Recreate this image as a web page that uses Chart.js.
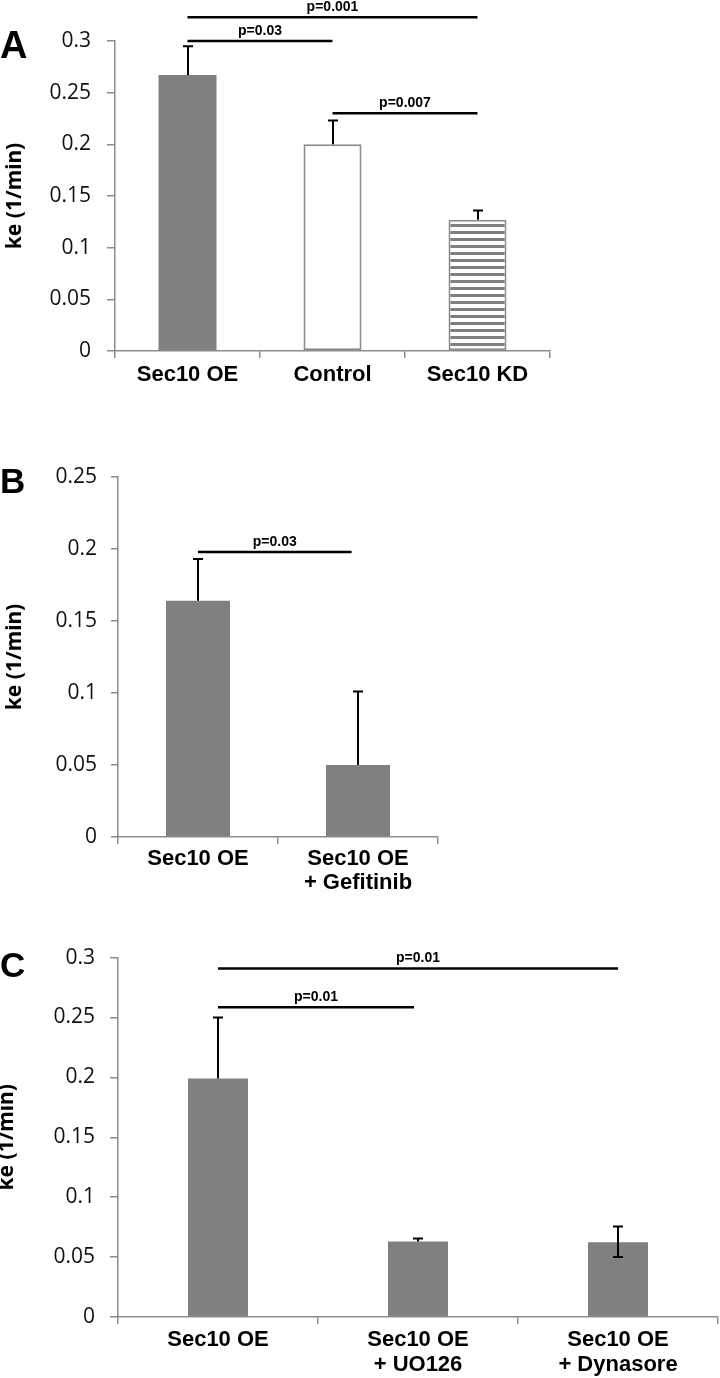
<!DOCTYPE html>
<html lang="en">
<head>
<meta charset="UTF-8" />
<title>ke panels</title>
<script src="https://cdn.jsdelivr.net/npm/chart.js"></script>
<style>
  html, body { margin: 0; padding: 0; background: #fff; }
  body { width: 720px; height: 1378px; position: relative; overflow: hidden; }
  .panel { position: absolute; left: 0; width: 720px; }
  .panel canvas { position: absolute; left: 0; top: 0; }
  .letter {
    position: absolute; left: 0; line-height: 1; color: #000;
    font-family: "Liberation Sans", Arial, sans-serif; font-weight: bold;
  }
</style>
</head>
<body>
  <div class="panel" style="top:0;height:400px">
    <canvas id="chartA" width="720" height="400"></canvas>
    <div class="letter" style="top:26px;font-size:38px">A</div>
  </div>
  <div class="panel" style="top:430px;height:470px">
    <canvas id="chartB" width="720" height="470"></canvas>
    <div class="letter" style="top:33px;font-size:35px">B</div>
  </div>
  <div class="panel" style="top:930px;height:448px">
    <canvas id="chartC" width="720" height="448"></canvas>
    <div class="letter" style="top:17px;font-size:35px">C</div>
  </div>

<script>
// ---- data ----
const catsA = ["Sec10 OE", "Control", "Sec10 KD"];
const valsA = [0.267, 0.200, 0.127];
const errUpA = [0.028, 0.023, 0.009];
const ticksA = [0, 0.05, 0.1, 0.15, 0.2, 0.25, 0.3];
const sigA = [
  { from: 0, to: 2, y: 0.323, text: "p=0.001" },
  { from: 0, to: 1, y: 0.300, text: "p=0.03" },
  { from: 1, to: 2, y: 0.230, text: "p=0.007" }
];

const catsB = ["Sec10 OE", ["Sec10 OE", "+ Gefitinib"]];
const valsB = [0.164, 0.050];
const errUpB = [0.029, 0.051];
const ticksB = [0, 0.05, 0.1, 0.15, 0.2, 0.25];
const sigB = [{ from: 0, to: 0.96, y: 0.198, text: "p=0.03" }];

const catsC = ["Sec10 OE", ["Sec10 OE", "+ UO126"], ["Sec10 OE", "+ Dynasore"]];
const valsC = [0.199, 0.063, 0.0625];
const errUpC = [0.051, 0.0025, 0.013];
const errDownC = [0, 0, 0.0125];
const ticksC = [0, 0.05, 0.1, 0.15, 0.2, 0.25, 0.3];
const sigC = [
  { from: 0, to: 2, y: 0.291, text: "p=0.01" },
  { from: 0, to: 0.98, y: 0.2585, text: "p=0.01" }
];

const AXIS = "#8c8c8c";
const BAR = "#808080";
const REG = "'Liberation Sans', Arial, sans-serif";
const NUM = "'Open Sans', sans-serif";
const TITLE = "'Noto Sans', sans-serif";

function stripes() {
  const c = document.createElement("canvas");
  c.width = 8; c.height = 7;
  const g = c.getContext("2d");
  g.fillStyle = "#fff"; g.fillRect(0, 0, 8, 7);
  g.fillStyle = "#7f7f7f"; g.fillRect(0, 0, 8, 3);
  return g.createPattern(c, "repeat");
}

// error bars and significance brackets
function extras(o) {
  return {
    id: "extras",
    afterDatasetsDraw(chart) {
      const ctx = chart.ctx;
      const x = chart.scales.x, y = chart.scales.y;
      const meta = chart.getDatasetMeta(0);
      ctx.save();
      ctx.strokeStyle = "#000";
      ctx.lineWidth = 2;
      o.vals.forEach((v, i) => {
        const bx = Math.round(meta.data[i].x);
        const dn = o.down ? o.down[i] : 0;
        const top = y.getPixelForValue(v + o.up[i]);
        const bot = y.getPixelForValue(v - dn);
        ctx.beginPath();
        ctx.moveTo(bx, bot); ctx.lineTo(bx, top);
        ctx.moveTo(bx - o.cap, top); ctx.lineTo(bx + o.cap, top);
        if (dn > 0) { ctx.moveTo(bx - o.cap, bot); ctx.lineTo(bx + o.cap, bot); }
        ctx.stroke();
      });
      ctx.lineWidth = 2.5;
      ctx.fillStyle = "#000";
      ctx.font = "bold 14px " + REG;
      ctx.textAlign = "center";
      ctx.textBaseline = "alphabetic";
      o.sigs.forEach(s => {
        const x1 = x.getPixelForValue(s.from), x2 = x.getPixelForValue(s.to);
        const yy = y.getPixelForValue(s.y);
        ctx.beginPath(); ctx.moveTo(x1, yy); ctx.lineTo(x2, yy); ctx.stroke();
        ctx.fillText(s.text, (x1 + x2) / 2, yy - 6);
      });
      ctx.restore();
    }
  };
}

function makeChart(id, o) {
  return new Chart(document.getElementById(id), {
    type: "bar",
    data: {
      labels: o.cats,
      datasets: [{
        data: o.vals,
        backgroundColor: o.bg,
        borderColor: AXIS,
        borderWidth: o.bw,
        borderSkipped: false,
        barPercentage: o.barPct,
        categoryPercentage: 1
      }]
    },
    options: {
      responsive: false,
      animation: false,
      layout: { padding: { left: 0, top: o.top, right: o.right, bottom: 0 } },
      plugins: { legend: { display: false }, tooltip: { enabled: false } },
      scales: {
        x: {
          offset: true,
          ticks: {
            color: "#000", padding: o.xPad, maxRotation: 0, minRotation: 0, autoSkip: false,
            font: { family: REG, weight: "bold", size: 22, lineHeight: o.xLH }
          },
          grid: { offset: true, drawOnChartArea: false, tickLength: 7, color: AXIS, lineWidth: 1.5 },
          border: { color: AXIS, width: 1.5 },
          afterFit: s => { s.height = o.xH; }
        },
        y: {
          min: 0, max: o.ticks[o.ticks.length - 1],
          afterBuildTicks: s => { s.ticks = o.ticks.map(v => ({ value: v })); },
          ticks: { color: "#111", font: { family: NUM, size: 21 }, padding: o.yPad, callback: v => String(v) },
          grid: { drawOnChartArea: false, tickLength: o.yTick, color: AXIS, lineWidth: 1.5 },
          border: { color: AXIS, width: 1.5 },
          title: {
            display: true, text: "ke (1/min)", color: "#000",
            font: { family: TITLE, weight: "bold", size: 21, lineHeight: 1.2 },
            padding: { top: o.titlePad, bottom: 0 }
          },
          afterFit: s => { s.width = o.yW; }
        }
      }
    },
    plugins: [extras(o)]
  });
}

makeChart("chartA", {
  cats: catsA, vals: valsA, up: errUpA, down: null, sigs: sigA, ticks: ticksA,
  bg: [BAR, "#fff", stripes()], bw: [0, 2, 2], barPct: 0.4,
  top: 41, right: 170, yW: 115, xH: 49, xPad: 4, xLH: 1.2,
  yPad: 16, yTick: 8, titlePad: 2, cap: 5
});

makeChart("chartB", {
  cats: catsB, vals: valsB, up: errUpB, down: null, sigs: sigB, ticks: ticksB,
  bg: [BAR, BAR], bw: [0, 0], barPct: 0.4,
  top: 47, right: 282, yW: 118, xH: 63, xPad: 3, xLH: 1.1,
  yPad: 14, yTick: 7, titlePad: 2, cap: 5
});

makeChart("chartC", {
  cats: catsC, vals: valsC, up: errUpC, down: errDownC, sigs: sigC, ticks: ticksC,
  bg: [BAR, BAR, BAR], bw: [0, 0, 0], barPct: 0.3,
  top: 26, right: 2, yW: 118, xH: 61, xPad: 3, xLH: 1.15,
  yPad: 15, yTick: 8, titlePad: -6, cap: 5
});
</script>
</body>
</html>
